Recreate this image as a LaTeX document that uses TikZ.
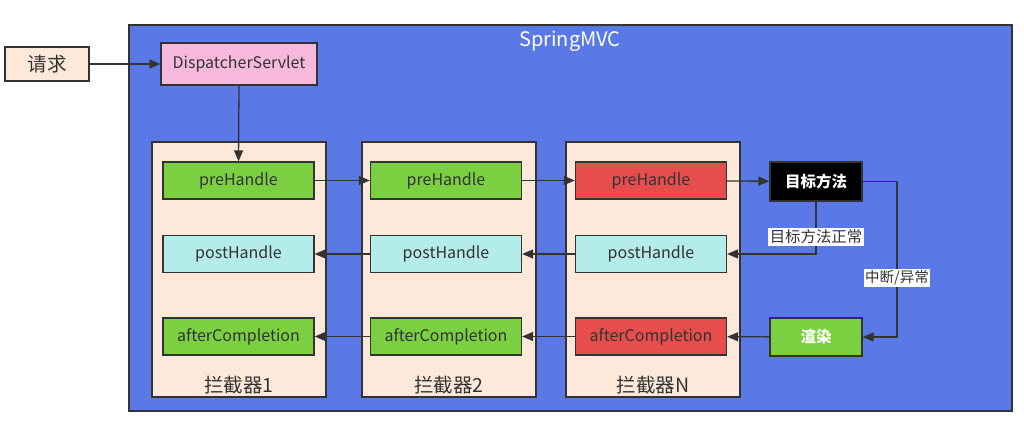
\documentclass[tikz,border=0pt]{standalone}
\usepackage{fontspec}
\setmainfont{Noto Sans CJK SC}
\usetikzlibrary{arrows.meta,positioning}
\definecolor{mvcblue}{HTML}{5A78E6}
\definecolor{reqfill}{HTML}{FCE9D9}
\definecolor{dsfill}{HTML}{F6B9DC}
\definecolor{chainfill}{HTML}{FCE9DA}
\definecolor{okgreen}{HTML}{7AD040}
\definecolor{stopred}{HTML}{E84D4D}
\definecolor{postcyan}{HTML}{B4ECEA}
\definecolor{edgegray}{HTML}{333333}
\begin{document}
\begin{tikzpicture}[
		x=1pt, y=-1pt,
		box/.style={draw=edgegray, line width=1.3pt, text=edgegray, inner sep=0pt,
				font=\fontsize{16}{18}\selectfont},
		stepbox/.style={box, minimum width=151pt, minimum height=37pt},
		chain/.style={draw=edgegray, line width=1.3pt, fill=chainfill,
				minimum width=174pt, minimum height=255pt},
		flow/.style={draw=edgegray, line width=1.3pt, -{Triangle[length=11pt,width=9pt]}},
		tag/.style={fill=white, inner sep=1.5pt, text=edgegray},
		chainlab/.style={text=edgegray, font=\fontsize{19.5}{22}\selectfont}
	]
	\useasboundingbox (0,0) rectangle (1024,422);
	\fill[white] (0,0) rectangle (1024,422);
	% outer frame
	\draw[edgegray, line width=1.3pt, fill=mvcblue] (129,25) rectangle (1012,411);
	\node[text=white, font=\fontsize{20}{22}\selectfont] (title) at (570,41) {SpringMVC};
	% request and dispatcher
	\node[box, fill=reqfill, minimum width=84pt, minimum height=34pt,
		font=\fontsize{19.5}{22}\selectfont] (req) at (47,64) {请求};
	\node[box, fill=dsfill, minimum width=156pt, minimum height=42pt] (ds) at (239,64) {DispatcherServlet};
	% interceptor chains
	\node[chain] (chain1) at (239,269.5) {};
	\node[chain] (chain2) at (449,269.5) {};
	\node[chain] (chainN) at (653,269.5) {};
	\node[chainlab] (lab1) at (239,385) {拦截器1};
	\node[chainlab] (lab2) at (449,385) {拦截器2};
	\node[chainlab] (labN) at (653,385) {拦截器N};
	% interceptor methods
	\node[stepbox, fill=okgreen] (pre1) at (238.5,180.5) {preHandle};
	\node[stepbox, fill=postcyan] (post1) at (238.5,254) {postHandle};
	\node[stepbox, fill=okgreen] (after1) at (238.5,336.5) {afterCompletion};
	\node[stepbox, fill=okgreen] (pre2) at (446,180.5) {preHandle};
	\node[stepbox, fill=postcyan] (post2) at (446,254) {postHandle};
	\node[stepbox, fill=okgreen] (after2) at (446,336.5) {afterCompletion};
	\node[stepbox, fill=stopred] (preN) at (651,180.5) {preHandle};
	\node[stepbox, fill=postcyan] (postN) at (651,254) {postHandle};
	\node[stepbox, fill=stopred] (afterN) at (651,336.5) {afterCompletion};
	% target method and rendering
	\node[box, fill=black, text=white, minimum width=92pt, minimum height=39pt,
		font=\fontsize{15.5}{18}\selectfont\bfseries] (target) at (816,181.5) {目标方法};
	\node[box, fill=okgreen, text=white, minimum width=92pt, minimum height=38pt,
		font=\fontsize{15.5}{18}\selectfont\bfseries] (render) at (816,337) {渲染};
	\coordinate (turn) at (897,181.5);
	% connectors
	\draw[flow] (req) -- (ds);
	\draw[flow] (ds.south) -- (pre1.north);
	\draw[flow] (pre1) -- (pre2);
	\draw[flow] (pre2) -- (preN);
	\draw[flow] (preN) -- (target);
	\draw[flow] (target.south) |- (postN.east);
	\draw[flow] (postN) -- (post2);
	\draw[flow] (post2) -- (post1);
	\draw[flow] (target.east) -- (turn) |- (render.east);
	\draw[flow] (render) -- (afterN);
	\draw[flow] (afterN) -- (after2);
	\draw[flow] (after2) -- (after1);
	\node[tag, font=\fontsize{15.4}{17}\selectfont] (okTag) at (816,237) {目标方法正常};
	\node[tag, font=\fontsize{14.5}{17}\selectfont] (stopTag) at (897,278) {中断/异常};
\end{tikzpicture}
\end{document}
